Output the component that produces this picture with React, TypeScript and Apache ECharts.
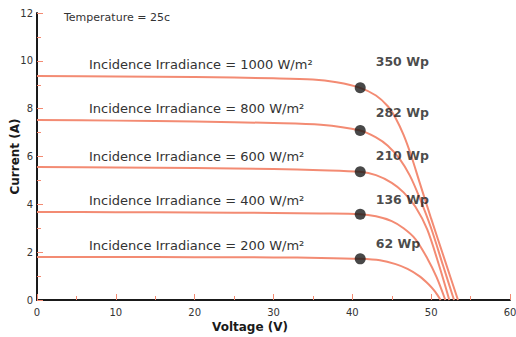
import React, { useEffect, useRef } from "react";
import * as echarts from "echarts";

const irradiance = [1000, 800, 600, 400, 200];
const peakPower = [350, 282, 210, 136, 62];

const curve1000 = [[0, 9.37], [10, 9.35], [20, 9.32], [30, 9.27], [35, 9.22], [38, 9.1], [41, 8.87], [43, 8.55], [44.5, 8.1], [45.5, 7.6], [46.5, 6.9], [47.5, 6.0], [48.5, 4.95], [50, 3.4], [51.7, 1.7], [53.4, 0]];
const curve800 = [[0, 7.53], [10, 7.5], [20, 7.46], [30, 7.4], [36, 7.33], [41, 7.09], [43, 6.8], [44.5, 6.45], [46, 5.9], [47.3, 5.2], [48.5, 4.3], [50, 3.0], [51.5, 1.45], [52.9, 0]];
const curve600 = [[0, 5.56], [10, 5.54], [20, 5.52], [30, 5.48], [36, 5.43], [41, 5.36], [43, 5.22], [45, 4.9], [46.5, 4.5], [48, 3.9], [49.5, 2.95], [51, 1.45], [52.3, 0]];
const curve400 = [[0, 3.68], [10, 3.67], [20, 3.66], [30, 3.64], [36, 3.62], [41, 3.59], [43, 3.5], [45, 3.3], [46.5, 3.0], [48, 2.55], [49.5, 1.75], [50.7, 0.95], [51.8, 0]];
const curve200 = [[0, 1.8], [10, 1.8], [20, 1.79], [30, 1.78], [36, 1.76], [41, 1.72], [43.5, 1.66], [45.5, 1.5], [47, 1.3], [48.5, 1.0], [49.7, 0.65], [50.5, 0.35], [51.2, 0]];
const curves = [curve1000, curve800, curve600, curve400, curve200];

const mppVoltage = [41, 41, 41, 41, 41];
const mppCurrent = [8.87, 7.09, 5.36, 3.59, 1.72];

const xTicks = [0, 10, 20, 30, 40, 50, 60];
const yTicks = [0, 2, 4, 6, 8, 10, 12];

const LINE = "#F38B73";
const FONT = "'DejaVu Sans', sans-serif";

export default function App() {
  const ref = useRef<HTMLDivElement>(null);
  useEffect(() => {
    const chart = echarts.init(ref.current!, null, { renderer: "svg" });
    const powerLabelDy = [-26, -18, -16, -15, -15];
    const series: any[] = curves.map((c, i) => ({
      type: "line",
      data: c,
      smooth: 0.3,
      showSymbol: false,
      lineStyle: { color: LINE, width: 2 },
      z: 2,
      markPoint: {
        symbol: "circle",
        symbolSize: 0,
        silent: true,
        data: [
          {
            coord: [6.6, c[0][1]],
            label: {
              show: true,
              position: "right",
              distance: 0,
              offset: [0, -11],
              formatter: `Incidence Irradiance = ${irradiance[i]} W/m²`,
              fontFamily: FONT,
              fontSize: 13,
              color: "#333",
            },
          },
        ],
      },
    }));
    series.push({
      type: "scatter",
      symbol: "circle",
      symbolSize: 11,
      itemStyle: { color: "#1a1a1a" },
      z: 5,
      data: mppVoltage.map((v, i) => ({
        value: [v, mppCurrent[i]],
        label: {
          show: true,
          position: "right",
          distance: 10,
          offset: [0, powerLabelDy[i]],
          formatter: `${peakPower[i]} Wp`,
          fontFamily: FONT,
          fontWeight: "bold",
          fontSize: 12.5,
          color: "#1a1a1a",
        },
      })),
    });
    chart.setOption({
      animation: false,
      title: {
        text: "Temperature = 25c",
        left: 59,
        top: 7,
        textStyle: { fontFamily: FONT, fontSize: 11, fontWeight: "normal", color: "#333" },
      },
      grid: { left: 37, right: 6, top: 13, bottom: 37, containLabel: false, outerBoundsMode: "none" },
      xAxis: {
        type: "value",
        min: xTicks[0],
        max: xTicks[xTicks.length - 1],
        interval: 10,
        name: "Voltage (V)",
        nameLocation: "middle",
        nameGap: 21,
        nameMoveOverlap: false,
        nameTextStyle: { fontFamily: FONT, fontSize: 12, fontWeight: "bold", color: "#1a1a1a", padding: [0, 47, 0, 0] },
        axisLine: { lineStyle: { color: "#1a1a1a", width: 2 } },
        axisTick: { show: true, inside: true, length: 6, lineStyle: { color: LINE, width: 1 } },
        minorTick: { show: true, splitNumber: 2, length: 4, lineStyle: { color: LINE, width: 1 } },
        axisLabel: { fontFamily: FONT, fontSize: 10, color: "#333", margin: 7 },
        splitLine: { show: false },
      },
      yAxis: {
        type: "value",
        min: yTicks[0],
        max: yTicks[yTicks.length - 1],
        interval: 2,
        name: "Current (A)",
        nameLocation: "middle",
        nameGap: 16,
        nameMoveOverlap: false,
        nameTextStyle: { fontFamily: FONT, fontSize: 12, fontWeight: "bold", color: "#1a1a1a" },
        axisLine: { show: true, lineStyle: { color: "#1a1a1a", width: 2 } },
        axisTick: { show: true, inside: true, length: 6, lineStyle: { color: LINE, width: 1 } },
        minorTick: { show: true, splitNumber: 2, length: 4, lineStyle: { color: LINE, width: 1 } },
        axisLabel: { fontFamily: FONT, fontSize: 10, color: "#333", margin: 4 },
        splitLine: { show: false },
      },
      series,
    });
    return () => chart.dispose();
  }, []);
  return <div ref={ref} style={{ width: 516, height: 337, position: "absolute", left: 0, top: 0 }} />;
}
